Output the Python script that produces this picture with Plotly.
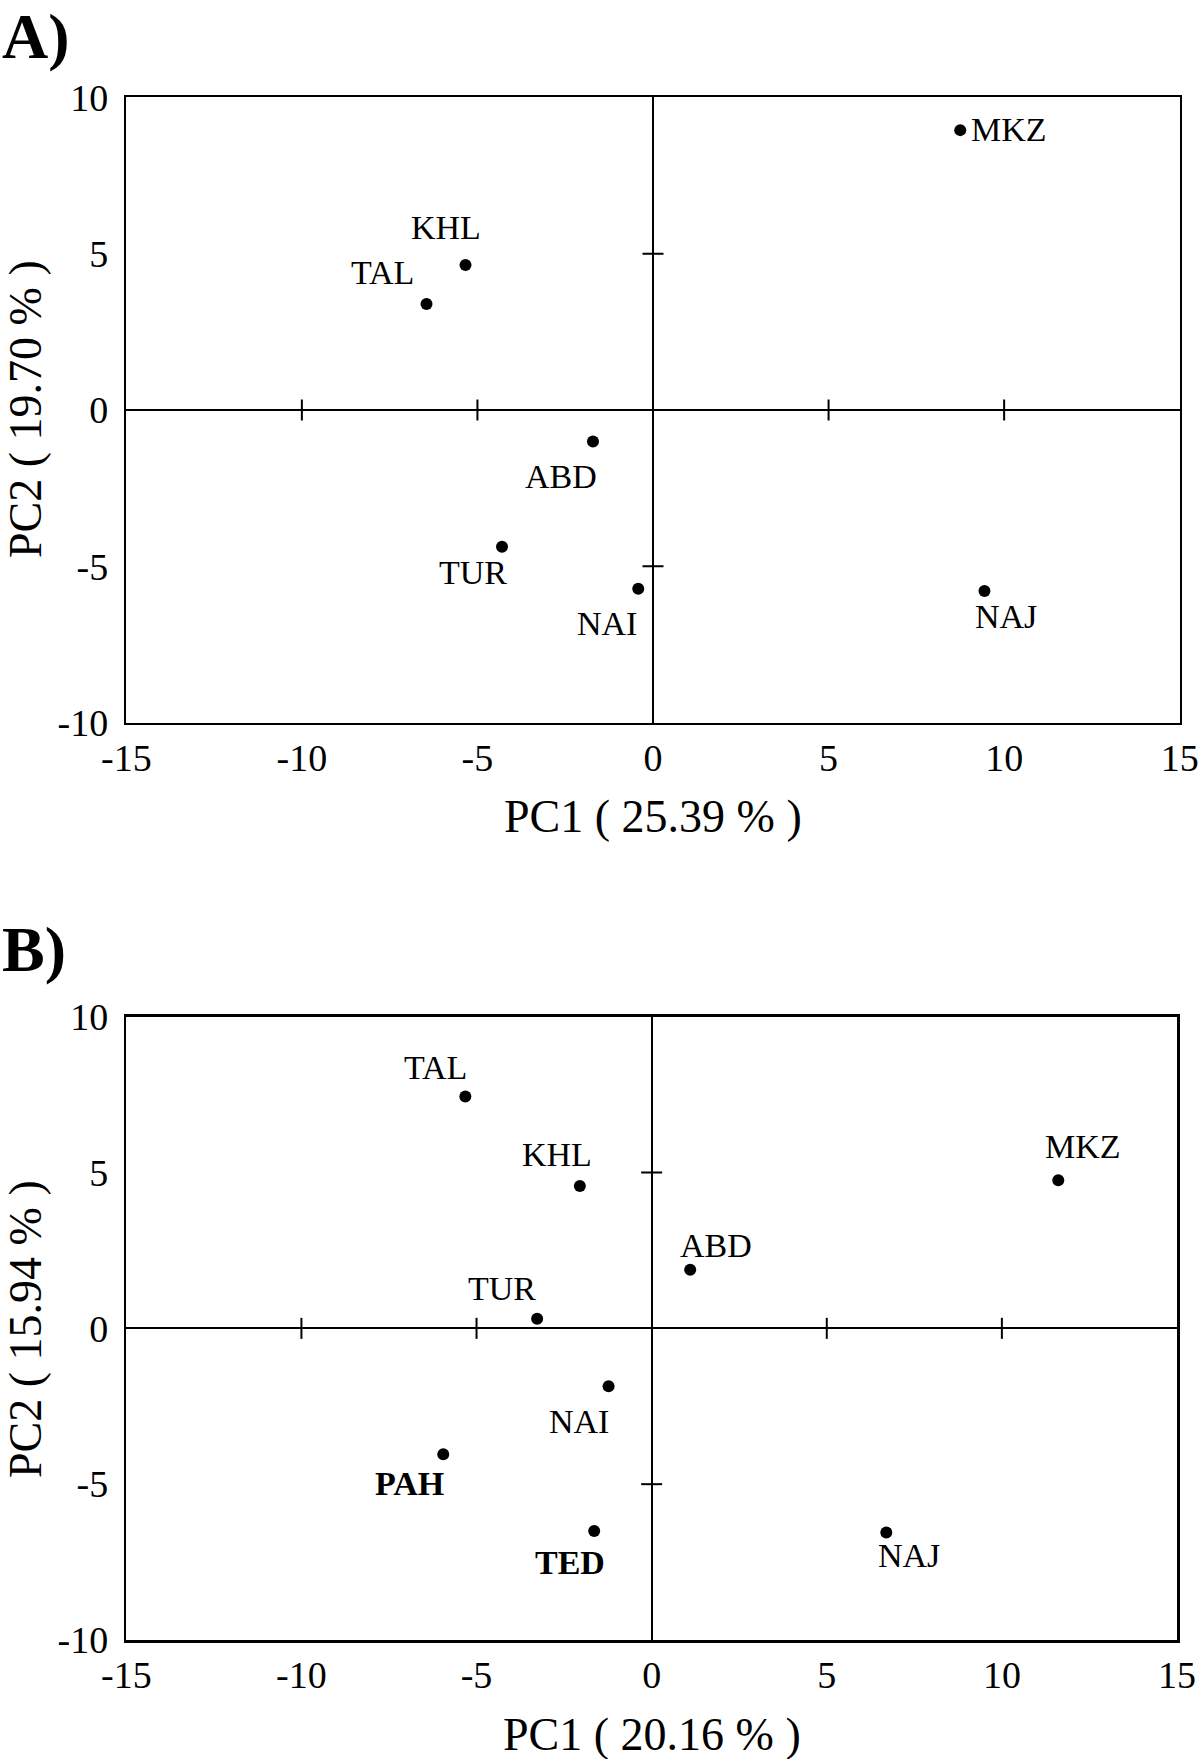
import plotly.graph_objects as go

# ---------------- data ----------------
A_sites = ["MKZ", "KHL", "TAL", "ABD", "TUR", "NAI", "NAJ"]
A_pc1 = [8.75, -5.34, -6.45, -1.71, -4.30, -0.42, 9.44]
A_pc2 = [8.95, 4.64, 3.39, -1.01, -4.37, -5.72, -5.79]
A_bold = [False, False, False, False, False, False, False]

B_sites = ["TAL", "KHL", "MKZ", "ABD", "TUR", "NAI", "PAH", "TED", "NAJ"]
B_pc1 = [-5.32, -2.05, 11.61, 1.10, -3.27, -1.23, -5.95, -1.64, 6.70]
B_pc2 = [7.44, 4.57, 4.75, 1.88, 0.31, -1.86, -4.04, -6.50, -6.55]
B_bold = [False, False, False, False, False, False, True, True, False]

x_ticks = [-15, -10, -5, 0, 5, 10, 15]
x_ticktext = ["-15", "-10", "-5", "0", "5", "10", "15"]
y_ticks = [-10, -5, 0, 5, 10]
y_ticktext = ["-10", "-5", "0", "5", "10"]

A_xtitle = "PC1 ( 25.39 % )"
A_ytitle = "PC2 ( 19.70 % )"
B_xtitle = "PC1 ( 20.16 % )"
B_ytitle = "PC2 ( 15.94 % )"

# ---------------- label offsets (pixels, style only) ----------------
A_dx = [49, -19, -44, -32, -29, -31, 22]
A_dy = [-1, -37, -31, 35, 26, 35, 25]
B_dx = [-30, -23, 25, 26, -35, -30, -34, -24, 23]
B_dy = [-29, -31, -34, -24, -30, 35, 29, 32, 23]

W, H = 1200, 1759
FONT = "'Liberation Serif', 'Times New Roman', Times, serif"

def px_x(p):
    return p / W

def px_y(p):
    return 1 - p / H

fig = go.Figure()

panels = [
    dict(sites=A_sites, x=A_pc1, y=A_pc2, bold=A_bold, dx=A_dx, dy=A_dy,
         xa="x", ya="y", xt=A_xtitle, yt=A_ytitle,
         xdom=[px_x(126.3), px_x(1179.7)], ydom=[px_y(722.7), px_y(97.3)],
         xt_y=816.5, yt_y=409, letter="A)", letter_y=37),
    dict(sites=B_sites, x=B_pc1, y=B_pc2, bold=B_bold, dx=B_dx, dy=B_dy,
         xa="x2", ya="y2", xt=B_xtitle, yt=B_ytitle,
         xdom=[px_x(126.3), px_x(1177.0)], ydom=[px_y(1640.0), px_y(1016.7)],
         xt_y=1734, yt_y=1329, letter="B)", letter_y=949),
]

annotations = []
shapes = []

for i, p in enumerate(panels):
    fig.add_trace(go.Scatter(
        x=p["x"], y=p["y"], mode="markers",
        marker=dict(color="black", size=12),
        xaxis=p["xa"], yaxis=p["ya"], showlegend=False, hoverinfo="skip",
    ))
    for s, xv, yv, b, dx, dy in zip(p["sites"], p["x"], p["y"], p["bold"], p["dx"], p["dy"]):
        annotations.append(dict(
            x=xv, y=yv, xref=p["xa"], yref=p["ya"],
            text=f"<b>{s}</b>" if b else s, showarrow=False,
            xanchor="center", yanchor="middle", xshift=dx, yshift=-dy,
            font=dict(family=FONT, size=34, color="black"),
        ))
    # cross ticks on the zero lines
    for t in x_ticks:
        if t not in (0, x_ticks[0], x_ticks[-1]):
            shapes.append(dict(type="line", xref=p["xa"], yref=p["ya"],
                               x0=t, x1=t, ysizemode="pixel", yanchor=0,
                               y0=-10.5, y1=10.5,
                               line=dict(color="black", width=2)))
    for t in y_ticks:
        if t not in (0, y_ticks[0], y_ticks[-1]):
            shapes.append(dict(type="line", xref=p["xa"], yref=p["ya"],
                               y0=t, y1=t, xsizemode="pixel", xanchor=0,
                               x0=-10.5, x1=10.5,
                               line=dict(color="black", width=2)))
    # axis titles
    annotations.append(dict(x=(p["xdom"][0] + p["xdom"][1]) / 2, y=px_y(p["xt_y"]),
                            xref="paper", yref="paper", text=p["xt"], showarrow=False,
                            xanchor="center", yanchor="middle",
                            font=dict(family=FONT, size=46, color="black")))
    annotations.append(dict(x=px_x(25), y=px_y(p["yt_y"]),
                            xref="paper", yref="paper", text=p["yt"], showarrow=False,
                            textangle=-90, xanchor="center", yanchor="middle",
                            font=dict(family=FONT, size=46, color="black")))
    annotations.append(dict(x=0, y=px_y(p["letter_y"]),
                            xref="paper", yref="paper", text=f"<b>{p['letter']}</b>",
                            showarrow=False, xanchor="left", yanchor="middle",
                            font=dict(family=FONT, size=64, color="black")))

axis_common = dict(
    showgrid=False, zeroline=True, zerolinecolor="black", zerolinewidth=2,
    showline=True, linecolor="black", linewidth=2.5, mirror=True,
    ticks="", tickfont=dict(family=FONT, size=38, color="black"),
    fixedrange=True, automargin=False,
)

fig.update_layout(
    width=W, height=H,
    margin=dict(l=0, r=0, t=0, b=0, autoexpand=False),
    paper_bgcolor="white", plot_bgcolor="white",
    showlegend=False,
    annotations=annotations, shapes=shapes,
    xaxis=dict(domain=panels[0]["xdom"], anchor="y", range=[-15, 15],
               tickvals=x_ticks, ticktext=x_ticktext, ticklabelstandoff=0, **axis_common),
    yaxis=dict(domain=panels[0]["ydom"], anchor="x", range=[-10, 10],
               tickvals=y_ticks, ticktext=y_ticktext, ticklabelstandoff=8, **axis_common),
    xaxis2=dict(domain=panels[1]["xdom"], anchor="y2", range=[-15, 15],
                tickvals=x_ticks, ticktext=x_ticktext, ticklabelstandoff=0, **axis_common),
    yaxis2=dict(domain=panels[1]["ydom"], anchor="x2", range=[-10, 10],
                tickvals=y_ticks, ticktext=y_ticktext, ticklabelstandoff=8, **axis_common),
)

fig.write_html(
    "out.html",
    config={"displayModeBar": False, "staticPlot": True},
    post_script="document.body.style.margin='0';document.body.style.overflow='hidden';",
)
